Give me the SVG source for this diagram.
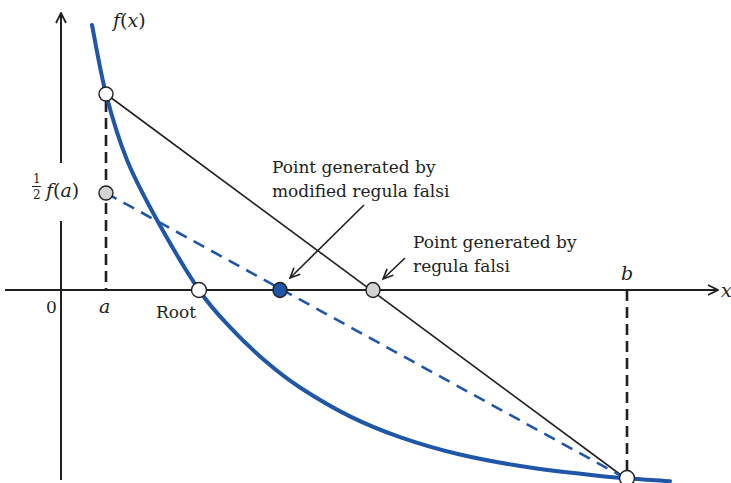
<svg xmlns="http://www.w3.org/2000/svg" width="731" height="483" viewBox="0 0 731 483">
<style>
.ax{stroke:#231f20;stroke-width:2;fill:none}
.vd{stroke:#231f20;stroke-width:2.6;stroke-dasharray:11 6;fill:none}
.sec{stroke:#231f20;stroke-width:1.6;fill:none}
.bd{stroke:#1f56a8;stroke-width:2.6;stroke-dasharray:12 8;fill:none}
.curve{stroke:#1f56a8;stroke-width:4;fill:none;stroke-linecap:round}
.ptr{stroke:#231f20;stroke-width:1.6;fill:none}
.t{font-family:'DejaVu Serif',serif;font-size:17px;fill:#231f20}
.m{font-size:19px}
.i{font-style:italic}
.pt{stroke:#231f20;stroke-width:1.4}
</style>
<defs>
<marker id="ah" viewBox="0 0 12 12" refX="11" refY="6" markerWidth="12" markerHeight="12" markerUnits="userSpaceOnUse" orient="auto">
<path d="M1,1 L11,6 L1,11" fill="none" stroke="#231f20" stroke-width="1.8"/>
</marker>
<marker id="ah2" viewBox="0 0 12 12" refX="11" refY="6" markerWidth="12" markerHeight="12" markerUnits="userSpaceOnUse" orient="auto">
<path d="M1,1.5 L11,6 L1,10.5" fill="none" stroke="#231f20" stroke-width="1.6"/>
</marker>
</defs>
<g id="connectors">
<path class="ax" d="M61,480 L61,221 M61,163 L61,13" marker-end="url(#ah)"/>
<path class="ax" d="M5,290 L718,290" marker-end="url(#ah)"/>
<path class="vd" d="M106,101 L106,290"/>
<path class="vd" d="M627,290 L627,472"/>
<path class="sec" d="M106,94 L625,478"/>
<path class="bd" d="M106,193 L625,478"/>
<path class="curve" d="M92,25 C94.3,36.5 100.2,71.5 106,94 C111.8,116.5 118.5,139 127,160 C135.5,181 145,198.3 157,220 C169,241.7 186.8,272.2 199,290 C211.2,307.9 219,315.3 230,327.1 C241,338.9 253.3,350.7 265,360.8 C276.7,370.9 285.8,378.2 300,387.5 C314.2,396.8 333.3,408.1 350,416.4 C366.7,424.7 381.7,430.8 400,437.1 C418.3,443.5 438.3,449.4 460,454.5 C481.7,459.6 506.7,464 530,467.6 C553.3,471.2 576.7,473.6 600,475.9 C623.3,478.2 658.3,480.3 670,481.2"/>
<path class="ptr" d="M364,205 L290,278" marker-end="url(#ah2)"/>
<path class="ptr" d="M405,258 L383,279" marker-end="url(#ah2)"/>
</g>
<g id="point-a"><circle class="pt" cx="106" cy="94" r="7" fill="#ffffff"/></g>
<g id="point-half"><circle class="pt" cx="106" cy="193" r="7" fill="#d1d3d4"/></g>
<g id="point-root"><circle class="pt" cx="199" cy="290" r="7.5" fill="#ffffff"/></g>
<g id="point-modified"><ellipse class="pt" cx="280" cy="290" rx="7" ry="7.5" fill="#1f56a8"/></g>
<g id="point-rf"><ellipse class="pt" cx="373" cy="290" rx="7" ry="7.5" fill="#d1d3d4"/></g>
<g id="point-b"><circle class="pt" cx="627" cy="478" r="7.5" fill="#ffffff"/></g>
<g id="labels">
<text class="t m" x="113" y="27"><tspan class="i">f</tspan>(<tspan class="i">x</tspan>)</text>
<text class="t" x="33" y="183" style="font-size:12px">1</text>
<line x1="32" y1="186.5" x2="41" y2="186.5" stroke="#231f20" stroke-width="1"/>
<text class="t" x="33" y="199" style="font-size:12px">2</text>
<text class="t m" x="46" y="197"><tspan class="i">f</tspan>(<tspan class="i">a</tspan>)</text>
<text class="t" x="46" y="313">0</text>
<text class="t i m" x="99" y="313">a</text>
<text class="t" x="156" y="318">Root</text>
<text class="t i m" x="621" y="280">b</text>
<text class="t i m" x="721" y="297">x</text>
<text class="t" x="272" y="173">Point generated by</text>
<text class="t" x="272" y="197">modified regula falsi</text>
<text class="t" x="413" y="248">Point generated by</text>
<text class="t" x="413" y="272">regula falsi</text>
</g>
</svg>
